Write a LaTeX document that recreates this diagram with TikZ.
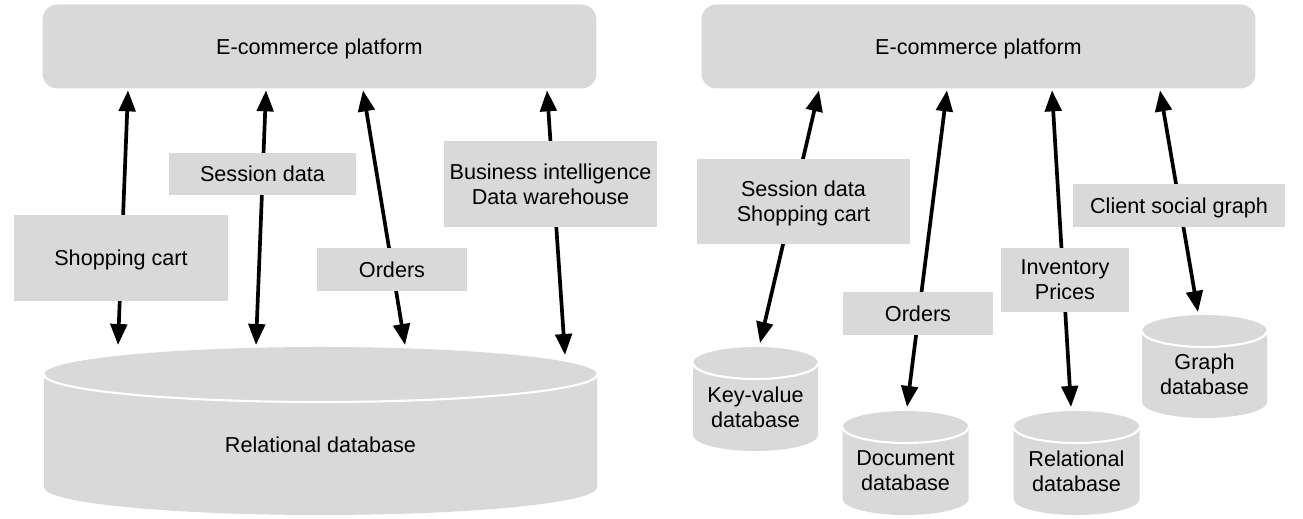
\documentclass[tikz,border=0pt]{standalone}
\usepackage{fontspec}
\setmainfont{Liberation Sans}
\usepackage{tikz}
\usetikzlibrary{positioning,arrows.meta,calc}

\definecolor{boxgray}{HTML}{D9D9D9}

% drum: name, x, top, half width, ellipse height, bottom, text
\newcommand{\dbdrum}[7]{%
  \fill[boxgray] (#2-#4,#3+#5) arc[start angle=180,end angle=360,x radius=#4,y radius=#5]
    -- (#2+#4,#6-#5) arc[start angle=0,end angle=180,x radius=#4,y radius=#5] -- cycle;
  \draw[white,line width=1.2pt] (#2-#4,#3+#5) arc[start angle=180,end angle=0,x radius=#4,y radius=#5];
  \coordinate (#1-top) at (#2,#3);
  \node[dbtext] (#1) at (#2,{(#3+#5+#6)/2}) {#7};
}

\begin{document}
\begin{tikzpicture}[x=0.02cm, y=-0.02cm,
    font=\fontsize{12.3}{14.2}\selectfont,
    platform/.style={fill=boxgray, rounded corners=0.3cm, minimum width=11.08cm, minimum height=1.68cm, inner sep=0pt, text depth=0pt},
    tag/.style={fill=boxgray, inner sep=0pt, align=center, text depth=0pt},
    dbtext/.style={align=center, inner sep=0pt},
    link/.style={line width=2.1pt, <->, >={Triangle[length=0.42cm,width=0.33cm]}}]
    \useasboundingbox (0,0) rectangle (1303,519);

    % Platforms
    \node[platform] (lplat) at (319.5,46.5) {E-commerce platform};
    \node[platform] (rplat) at (978.5,46.5) {E-commerce platform};

    % One relational store
    \dbdrum{rdb}{320.5}{347}{276.5}{27.5}{515}{Relational database}

    % Polyglot stores
    \dbdrum{kv}{755.5}{347}{62.5}{16}{451}{Key-value\\database}
    \dbdrum{doc}{905.5}{411}{63}{16}{515}{Document\\database}
    \dbdrum{rel}{1076.5}{411}{63}{16}{515}{Relational\\database}
    \dbdrum{graph}{1204.5}{315}{62.5}{16}{418}{Graph\\database}

    % Links, left
    \draw[link] ($(lplat.south)+(-191.5,1.5)$) -- ($(rdb-top)+(-202.5,-2)$);
    \draw[link] ($(lplat.south)+(-53.5,1.5)$) -- ($(rdb-top)+(-64.5,-2)$);
    \draw[link] ($(lplat.south)+(43.5,1.5)$) -- ($(rdb-top)+(84.5,-2)$);
    \draw[link] ($(lplat.south)+(227.5,1.5)$) -- ($(rdb-top)+(244.5,8)$);

    % Links, right
    \draw[link] ($(rplat.south)+(-159.5,1.5)$) -- ($(kv-top)+(4.5,-4)$);
    \draw[link] ($(rplat.south)+(-31.5,1.5)$) -- ($(doc-top)+(1.5,-4)$);
    \draw[link] ($(rplat.south)+(73.5,1.5)$) -- ($(rel-top)+(-5.5,-4)$);
    \draw[link] ($(rplat.south)+(181.5,1.5)$) -- ($(graph-top)+(-6.5,-3)$);

    % Labels over the links
    \node[tag, minimum width=4.28cm, minimum height=1.72cm] (lcart) at (121,258) {Shopping cart};
    \node[tag, minimum width=3.74cm, minimum height=0.84cm] (lsess) at (262.5,174) {Session data};
    \node[tag, minimum width=3.0cm, minimum height=0.86cm] (lord) at (392,269.5) {Orders};
    \node[tag, minimum width=4.26cm, minimum height=1.72cm] (lbi) at (550.5,184) {Business intelligence\\Data warehouse};

    \node[tag, minimum width=4.26cm, minimum height=1.7cm] (rsess) at (803.5,201.5) {Session data\\Shopping cart};
    \node[tag, minimum width=3.0cm, minimum height=0.86cm] (rord) at (918,313.5) {Orders};
    \node[tag, minimum width=2.56cm, minimum height=1.28cm] (rinv) at (1065,280) {Inventory\\Prices};
    \node[tag, minimum width=4.24cm, minimum height=0.86cm] (rsoc) at (1179,205.5) {Client social graph};
\end{tikzpicture}
\end{document}
